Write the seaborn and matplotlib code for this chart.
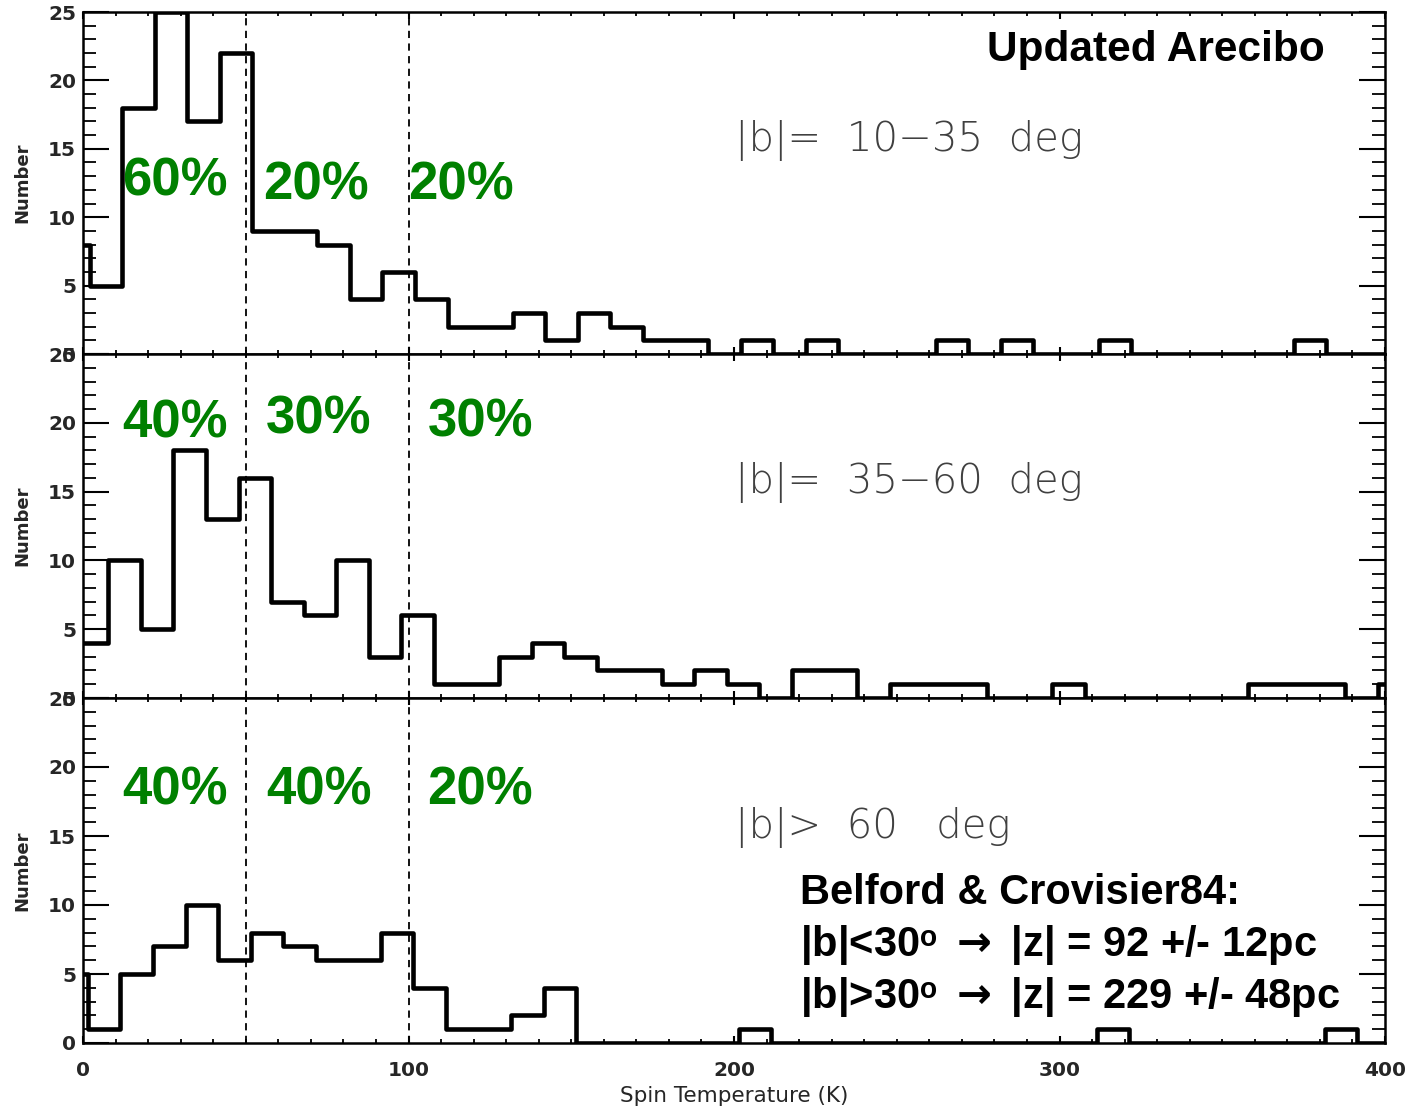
import numpy as np
import pandas as pd
import matplotlib
matplotlib.use("Agg")
import matplotlib.pyplot as plt
import seaborn as sns
from matplotlib.ticker import MultipleLocator

# Spin temperature histograms (10 K bins) for three latitude ranges.
bin_width = 10.0

low_lat_start = -8.0
low_lat_counts = [8, 5, 18, 25, 17, 22, 9, 9, 8, 4,
                  6, 4, 2, 2, 3, 1, 3, 2, 1, 1,
                  0, 1, 0, 1, 0, 0, 0, 1, 0, 1,
                  0, 0, 1, 0, 0, 0, 0, 0, 1, 0,
                  0]

mid_lat_start = -2.2
mid_lat_counts = [4, 10, 5, 18, 13, 16, 7, 6, 10, 3,
                  6, 1, 1, 3, 4, 3, 2, 2, 1, 2,
                  1, 0, 2, 2, 0, 1, 1, 1, 0, 0,
                  1, 0, 0, 0, 0, 0, 1, 1, 1, 0,
                  1]

high_lat_start = -8.5
high_lat_counts = [5, 1, 5, 7, 10, 6, 8, 7, 6, 6,
                   8, 4, 1, 1, 2, 4, 0, 0, 0, 0,
                   0, 1, 0, 0, 0, 0, 0, 0, 0, 0,
                   0, 0, 1, 0, 0, 0, 0, 0, 0, 1,
                   0]

panel_labels = ["|b|=  10\u221235  deg", "|b|=  35\u221260  deg", "|b|>  60   deg"]

# Temperature divisions (K) and the share of clouds in each range
divisions = [50, 100]
share_labels = [["60%", "20%", "20%"],
                ["40%", "30%", "30%"],
                ["40%", "40%", "20%"]]
share_x = [[28.3, 71.6, 116.0],
           [28.3, 72.5, 122.0],
           [28.3, 72.5, 121.8]]
share_y = [[11.6, 11.3, 11.3],
           [18.9, 19.2, 19.0],
           [17.25, 17.25, 17.25]]

x_ticks = [0, 100, 200, 300, 400]
y_ticks = [0, 5, 10, 15, 20, 25]

sns.set_style("white")
plt.rcParams["font.family"] = ["DejaVu Sans"]
# bold arrow glyph inside the scale-height notes
plt.rcParams["mathtext.fontset"] = "custom"
plt.rcParams["mathtext.bf"] = "DejaVu Sans:bold"
plt.rcParams["mathtext.rm"] = "DejaVu Sans"

fig = plt.figure(figsize=(14.1, 11.1), dpi=100)
left, width = 83 / 1410, 1302 / 1410
rects = [
    (left, 1 - 354 / 1110, width, 342 / 1110),
    (left, 1 - 698 / 1110, width, 344 / 1110),
    (left, 1 - 1043 / 1110, width, 345 / 1110),
]
axes = [fig.add_axes(r) for r in rects]

starts = [low_lat_start, mid_lat_start, high_lat_start]
counts_all = [low_lat_counts, mid_lat_counts, high_lat_counts]

green = "#008000"
bold_family = ["Liberation Sans", "DejaVu Sans"]

for i, ax in enumerate(axes):
    counts = np.array(counts_all[i], dtype=float)
    edges = starts[i] + bin_width * np.arange(len(counts) + 1)
    df = pd.DataFrame({"tspin": edges[:-1] + bin_width / 2, "n": counts})
    sns.histplot(data=df, x="tspin", weights="n", bins=edges.tolist(),
                 element="step", fill=False, color="black", linewidth=3.3, ax=ax)

    for d in divisions:
        ax.axvline(d, color="black", lw=1.3, ls=(0, (4, 3)), zorder=1)

    ax.set_xlim(0, 400)
    ax.set_ylim(0, 25)
    ax.set_xticks(x_ticks)
    ax.set_yticks(y_ticks)
    ax.xaxis.set_minor_locator(MultipleLocator(10))
    ax.yaxis.set_minor_locator(MultipleLocator(1))
    ax.tick_params(axis="x", which="major", direction="in", top=True, bottom=True,
                   length=5, width=1.5, color="black", pad=13, labelsize=14.5)
    ax.tick_params(axis="x", which="minor", direction="in", top=True, bottom=True,
                   length=2.8, width=1.3, color="black")
    ax.tick_params(axis="y", which="major", direction="in", left=True, right=True,
                   length=18.5, width=1.5, color="black", pad=5, labelsize=14.5)
    ax.tick_params(axis="y", which="minor", direction="in", left=True, right=True,
                   length=9.3, width=1.3, color="black")
    for lab in ax.get_xticklabels() + ax.get_yticklabels():
        lab.set_fontweight("bold")
    for sp in ax.spines.values():
        sp.set_linewidth(1.8)
        sp.set_color("black")

    ax.set_ylabel("Number", fontsize=13, fontweight="bold")
    ax.yaxis.set_label_coords(-0.040, 0.5)
    if i < 2:
        ax.tick_params(axis="x", labelbottom=False)
        ax.set_xlabel("")

    ax.text(0.501, 0.595, panel_labels[i], transform=ax.transAxes,
            fontsize=29, color="#404040", fontweight="light",
            ha="left", va="baseline")

    for s, xv, yv in zip(share_labels[i], share_x[i], share_y[i]):
        ax.text(xv, yv, s, color=green, fontsize=38, fontweight="bold",
                family=bold_family, ha="center", va="baseline")

axes[2].set_xlabel("Spin Temperature (K)", fontsize=15.5, labelpad=4)

axes[0].text(0.954, 0.857, "Updated Arecibo", transform=axes[0].transAxes,
             fontsize=30.5, fontweight="bold", family=bold_family,
             ha="right", va="baseline", color="black")

note_lines = ["Belford & Crovisier84:",
              "|b|<30\u1d52 $\\mathbf{\\rightarrow}$ |z| = 92 +/- 12pc",
              "|b|>30\u1d52 $\\mathbf{\\rightarrow}$ |z| = 229 +/- 48pc"]
note_y = [0.402, 0.251, 0.102]
for s, yv in zip(note_lines, note_y):
    axes[2].text(0.551, yv, s, transform=axes[2].transAxes, fontsize=30,
                 fontweight="bold", family=bold_family, ha="left",
                 va="baseline", color="black")

fig.savefig("out.png", dpi=100, facecolor="white")
